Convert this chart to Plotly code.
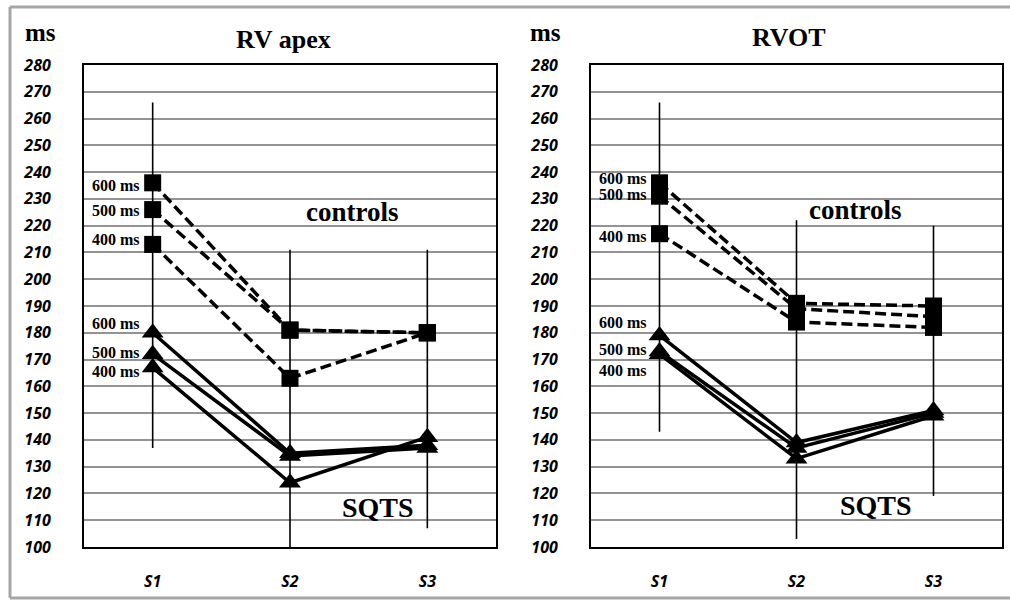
import plotly.graph_objects as go

# ---------------- data ----------------
stimuli = ["S1", "S2", "S3"]
y_ticks = list(range(100, 290, 10))
cycle_labels = ["600 ms", "500 ms", "400 ms"]

# RV apex
apex_controls_600 = [236, 181, 180]
apex_controls_500 = [226, 181, 180]
apex_controls_400 = [213, 163, 180]
apex_sqts_600 = [180, 135, 138]
apex_sqts_500 = [172, 134, 137]
apex_sqts_400 = [167, 124, 141]
apex_err_top = [266, 211, 211]
apex_err_bottom = [137, 100, 107]

# RVOT
rvot_controls_600 = [236, 191, 190]
rvot_controls_500 = [231, 189, 186]
rvot_controls_400 = [217, 184, 182]
rvot_sqts_600 = [179, 139, 151]
rvot_sqts_500 = [173, 137, 150]
rvot_sqts_400 = [172, 133, 149]
rvot_err_top = [266, 222, 220]
rvot_err_bottom = [143, 103, 119]

# label y positions (layout only)
apex_ctrl_label_y = [235, 225.5, 215]
apex_sqts_label_y = [183.3, 172.8, 165.4]
rvot_ctrl_label_y = [237.5, 231.5, 216.1]
rvot_sqts_label_y = [183.7, 173.6, 166.1]

panels = [
    dict(title="RV apex", xa="x", ya="y",
         controls=[apex_controls_600, apex_controls_500, apex_controls_400],
         sqts=[apex_sqts_600, apex_sqts_500, apex_sqts_400],
         top=apex_err_top, bottom=apex_err_bottom,
         ctrl_ly=apex_ctrl_label_y, sqts_ly=apex_sqts_label_y),
    dict(title="RVOT", xa="x2", ya="y2",
         controls=[rvot_controls_600, rvot_controls_500, rvot_controls_400],
         sqts=[rvot_sqts_600, rvot_sqts_500, rvot_sqts_400],
         top=rvot_err_top, bottom=rvot_err_bottom,
         ctrl_ly=rvot_ctrl_label_y, sqts_ly=rvot_sqts_label_y),
]

W, H = 1010, 601
fig = go.Figure()

serif = "Liberation Serif"
for p in panels:
    # error bars as vertical lines
    ex, ey = [], []
    for s, t, b in zip(stimuli, p["top"], p["bottom"]):
        ex += [s, s, None]
        ey += [t, b, None]
    fig.add_trace(go.Scatter(x=ex, y=ey, mode="lines", xaxis=p["xa"], yaxis=p["ya"],
                             line=dict(color="black", width=1.6), showlegend=False,
                             hoverinfo="skip"))
    for vals in p["controls"]:
        fig.add_trace(go.Scatter(x=stimuli, y=vals, mode="lines+markers",
                                 xaxis=p["xa"], yaxis=p["ya"],
                                 line=dict(color="black", width=3.5, dash="11px,5px"),
                                 marker=dict(symbol="square", size=17, color="black"),
                                 showlegend=False))
    for vals in p["sqts"]:
        fig.add_trace(go.Scatter(x=stimuli, y=vals, mode="lines+markers",
                                 xaxis=p["xa"], yaxis=p["ya"],
                                 line=dict(color="black", width=3.5),
                                 marker=dict(symbol="triangle-up", size=19, color="black"),
                                 showlegend=False))

axis_common = dict(showline=True, mirror=True, linecolor="black", linewidth=2,
                   zeroline=False, automargin=False)
tickfont = dict(family="Open Sans", size=16, color="black", weight="bold", style="italic")

fig.update_layout(
    width=W, height=H, autosize=False,
    margin=dict(l=0, r=0, t=0, b=0, pad=0),
    paper_bgcolor="white", plot_bgcolor="white",
    showlegend=False,
    xaxis=dict(domain=[84 / W, 496 / W], type="category", categoryorder="array",
               categoryarray=stimuli, range=[-0.5, 2.5], showgrid=False,
               tickfont=tickfont, ticks="", ticklabelstandoff=19, **axis_common),
    yaxis=dict(domain=[1 - 547 / H, 1 - 65 / H], range=[100, 280], tickvals=y_ticks,
               showgrid=True, gridcolor="#939393", gridwidth=1.6, tickfont=tickfont,
               ticks="", ticklabelstandoff=28, **axis_common),
    xaxis2=dict(domain=[591 / W, 1002 / W], type="category", categoryorder="array",
                categoryarray=stimuli, range=[-0.5, 2.5], showgrid=False,
                tickfont=tickfont, ticks="", ticklabelstandoff=19, anchor="y2",
                **axis_common),
    yaxis2=dict(domain=[1 - 547 / H, 1 - 65 / H], range=[100, 280], tickvals=y_ticks,
                showgrid=True, gridcolor="#939393", gridwidth=1.6, tickfont=tickfont,
                ticks="", ticklabelstandoff=28, anchor="x2", **axis_common),
)

annotations = []
title_pos = [(283, 40), (789, 38)]
ms_pos = [(40, 33), (545, 33)]
controls_pos = [(352, 212), (855, 210)]
sqts_pos = [(378, 507), (876, 505)]
for i, p in enumerate(panels):
    annotations.append(dict(text="<b>" + p["title"] + "</b>", x=title_pos[i][0] / W,
                            y=1 - title_pos[i][1] / H, xref="paper", yref="paper",
                            showarrow=False, font=dict(family=serif, size=26, color="black"),
                            xanchor="center", yanchor="middle"))
    annotations.append(dict(text="<b>ms</b>", x=ms_pos[i][0] / W, y=1 - ms_pos[i][1] / H,
                            xref="paper", yref="paper", showarrow=False,
                            font=dict(family=serif, size=25, color="black"),
                            xanchor="center", yanchor="middle"))
    annotations.append(dict(text="<b>controls</b>", x=controls_pos[i][0] / W,
                            y=1 - controls_pos[i][1] / H, xref="paper", yref="paper",
                            showarrow=False, font=dict(family=serif, size=27, color="black"),
                            xanchor="center", yanchor="middle"))
    annotations.append(dict(text="<b>SQTS</b>", x=sqts_pos[i][0] / W,
                            y=1 - sqts_pos[i][1] / H, xref="paper", yref="paper",
                            showarrow=False, font=dict(family=serif, size=28, color="black"),
                            xanchor="center", yanchor="middle"))
    for lab, ly in list(zip(cycle_labels, p["ctrl_ly"])) + list(zip(cycle_labels, p["sqts_ly"])):
        annotations.append(dict(text="<b>" + lab + "</b>", x=stimuli[0], y=ly,
                                xref=p["xa"], yref=p["ya"], showarrow=False,
                                xanchor="right", yanchor="middle", xshift=-11,
                                font=dict(family=serif, size=16, color="black")))
fig.update_layout(annotations=annotations)

# outer frame
frame = dict(color="#a6a6a6", width=3)
fig.add_shape(type="line", xref="paper", yref="paper", x0=10 / W, x1=1.0,
              y0=1 - 7 / H, y1=1 - 7 / H, line=frame)
fig.add_shape(type="line", xref="paper", yref="paper", x0=10 / W, x1=1.0,
              y0=1 - 598 / H, y1=1 - 598 / H, line=frame)
fig.add_shape(type="line", xref="paper", yref="paper", x0=10 / W, x1=10 / W,
              y0=1 - 7 / H, y1=1 - 598 / H, line=frame)

fig.write_html(
    "out.html",
    include_plotlyjs=True,
    full_html=True,
    config={"displayModeBar": False},
    post_script=(
        "document.documentElement.style.overflow='hidden';"
        "document.body.style.margin='0';document.body.style.padding='0';"
        "document.body.style.overflow='hidden';"
        "var gd=document.getElementById('{plot_id}');"
        "gd.style.position='fixed';gd.style.top='0px';gd.style.left='0px';"
    ),
)
